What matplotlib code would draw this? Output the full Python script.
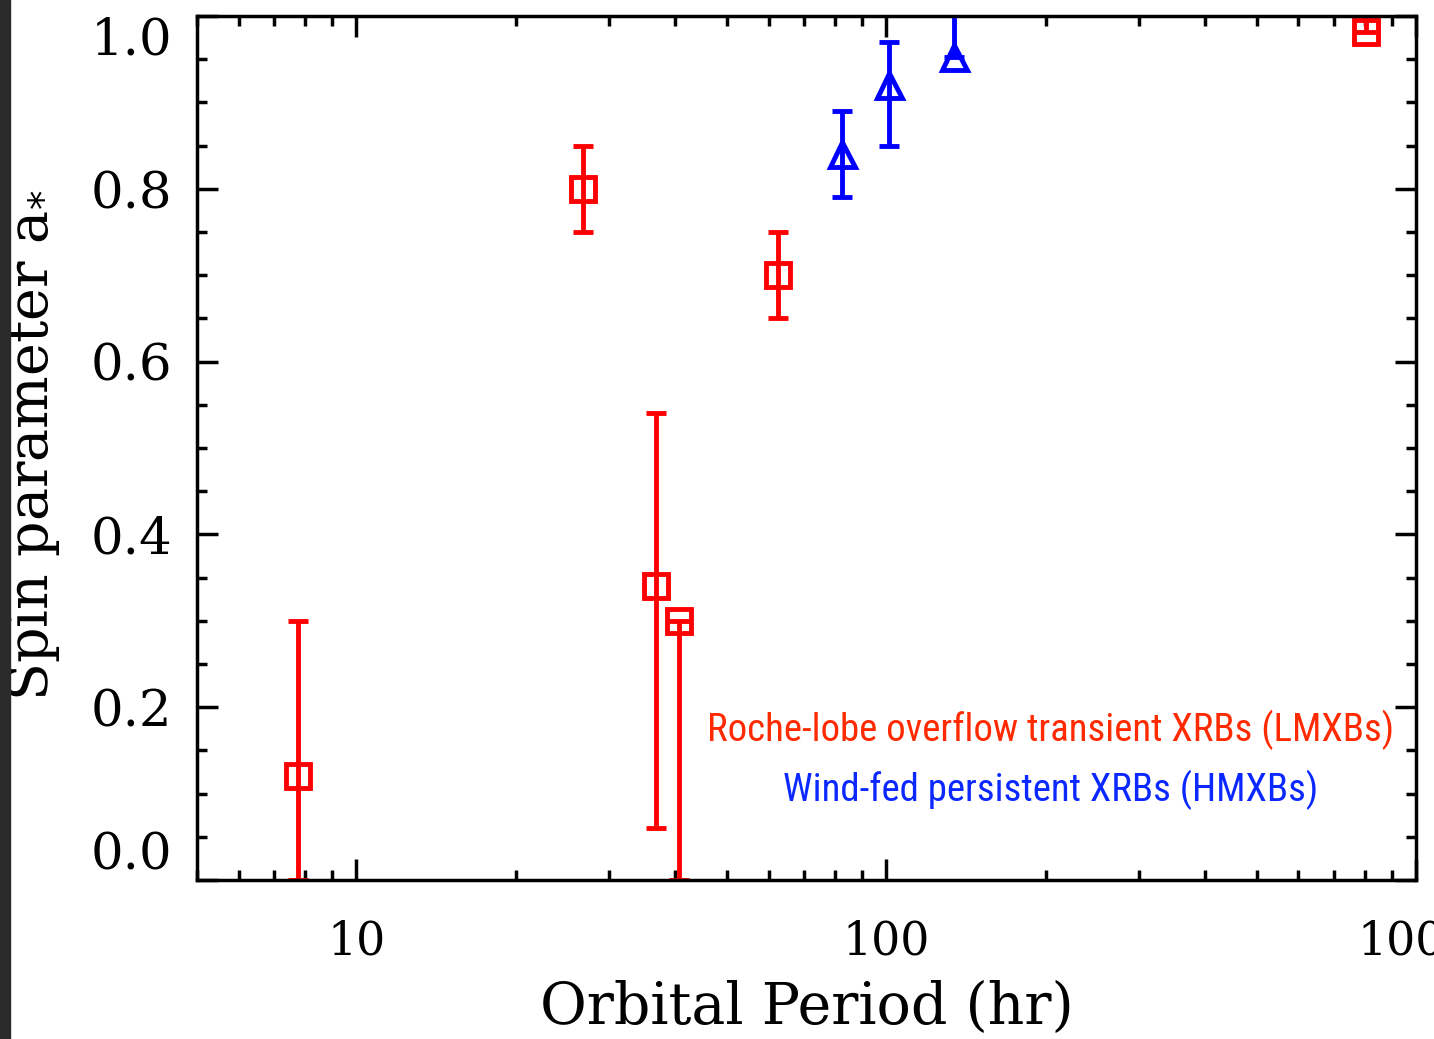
import matplotlib.pyplot as plt
from matplotlib.ticker import FixedLocator, MultipleLocator, NullFormatter
from matplotlib.patches import Rectangle

# Roche-lobe overflow transient XRBs (LMXBs)
lm_period = [7.75, 26.8, 36.8, 40.6, 62.5, 804.0]
lm_spin = [0.12, 0.80, 0.34, 0.30, 0.70, 0.981]
lm_err_lo = [0.12, 0.05, 0.28, 0.30, 0.05, 0.0]
lm_err_hi = [0.18, 0.05, 0.20, 0.0, 0.05, 0.02]

# Wind-fed persistent XRBs (HMXBs)
hm_period = [82.6, 101.0, 134.0]
hm_spin = [0.84, 0.92, 0.952]
hm_err_lo = [0.05, 0.07, 0.0]
hm_err_hi = [0.05, 0.05, 0.06]

xticks = [10, 100, 1000]
yticks = [0.0, 0.2, 0.4, 0.6, 0.8, 1.0]

narrow = ['Roboto Condensed', 'Liberation Sans']

fig = plt.figure(figsize=(14.34, 10.39), dpi=100)
ax = fig.add_axes([197 / 1434, 1 - 880 / 1039, (1416 - 197) / 1434, (880 - 16) / 1039])

# dark scan edge on the left
fig.patches.append(Rectangle((0, 0), 10 / 1434, 1, transform=fig.transFigure,
                             color='#2a2a2a', zorder=0))

ax.errorbar(lm_period, lm_spin, yerr=[lm_err_lo, lm_err_hi], fmt='s', color='red',
            mfc='none', mec='red', ms=17, mew=3.5, elinewidth=3.5, capsize=7, capthick=3.5)
ax.errorbar(hm_period, hm_spin, yerr=[hm_err_lo, hm_err_hi], fmt='^', color='blue',
            mfc='none', mec='blue', ms=18, mew=3.5, elinewidth=3.5, capsize=7, capthick=3.5)

ax.set_xscale('log')
ax.set_xlim(5, 1000)
ax.set_ylim(0, 1.0)
ax.xaxis.set_major_locator(FixedLocator(xticks))
ax.set_xticklabels([str(t) for t in xticks])
ax.xaxis.set_minor_formatter(NullFormatter())
ax.yaxis.set_major_locator(FixedLocator(yticks))
ax.set_yticklabels([f'{t:.1f}' for t in yticks])
ax.yaxis.set_minor_locator(MultipleLocator(0.05))

ax.tick_params(which='both', direction='in', top=True, right=True, width=2.5, colors='black')
ax.tick_params(which='major', length=15)
ax.tick_params(which='minor', length=7)
ax.tick_params(axis='x', which='major', labelsize=33, pad=28)
ax.tick_params(axis='y', which='major', labelsize=37, pad=18)
for lab in ax.get_xticklabels() + ax.get_yticklabels():
    lab.set_family('DejaVu Serif')
ax.get_yticklabels()[0].set_va('bottom')
ax.get_yticklabels()[-1].set_va('top')
for s in ax.spines.values():
    s.set_linewidth(2.5)

ax.set_xlabel('Orbital Period (hr)', family='DejaVu Serif', fontsize=41)
ax.xaxis.set_label_coords(0.5, (880 - 1036) / 864)
ax.xaxis.label.set_va('bottom')
ax.set_ylabel('Spin parameter a$_{*}$', family='DejaVu Serif', fontsize=40)
ax.yaxis.set_label_coords((62 - 197) / 1219, (880 - 445) / 864)

ax.text(0.70, 0.174, 'Roche-lobe overflow transient XRBs (LMXBs)', transform=ax.transAxes,
        ha='center', va='center', color='#ff2a00', fontsize=28, family=narrow)
ax.text(0.70, 0.104, 'Wind-fed persistent XRBs (HMXBs)', transform=ax.transAxes,
        ha='center', va='center', color='#0a28ff', fontsize=28, family=narrow)

fig.savefig('out.png', dpi=100)
